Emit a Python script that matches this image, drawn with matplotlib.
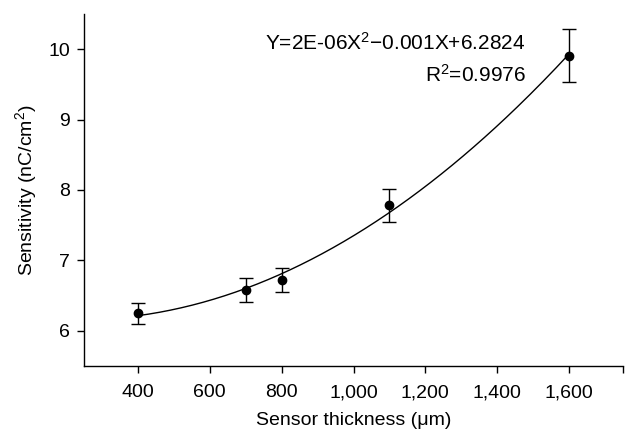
import numpy as np
import matplotlib
matplotlib.use("Agg")
import matplotlib.pyplot as plt

thickness = [400, 700, 800, 1100, 1600]
sensitivity = [6.25, 6.58, 6.72, 7.78, 9.91]
errors = [0.15, 0.17, 0.175, 0.235, 0.38]
x_ticks = [400, 600, 800, 1000, 1200, 1400, 1600]
x_tick_labels = ["400", "600", "800", "1,000", "1,200", "1,400", "1,600"]
y_ticks = [6, 7, 8, 9, 10]
equation = "Y=2E-06X$^2$\u22120.001X+6.2824"
r2_text = "R$^2$=0.9976"

plt.rcParams['font.family'] = ['Liberation Sans', 'DejaVu Sans']
plt.rcParams['mathtext.fontset'] = 'custom'
plt.rcParams['mathtext.rm'] = 'Liberation Sans'
plt.rcParams['mathtext.it'] = 'Liberation Sans'
plt.rcParams['mathtext.default'] = 'rm'

fig = plt.figure(figsize=(6.3, 4.33), dpi=100)
ax = fig.add_axes([84/630, 1-366/433, (623-84)/630, (366-14)/433])

coef = np.polyfit(thickness, sensitivity, 2)
xs = np.linspace(min(thickness), max(thickness), 200)
ax.plot(xs, np.polyval(coef, xs), color='black', lw=1.0)
ax.errorbar(thickness, sensitivity, yerr=errors, fmt='o', color='black',
            ms=6, capsize=5, elinewidth=1.0, capthick=1.0)

ax.set_xlim(250, 1750)
ax.set_ylim(5.5, 10.5)
ax.set_xticks(x_ticks)
ax.set_xticklabels(x_tick_labels)
ax.set_xticks([1750], minor=True)
ax.set_yticks(y_ticks)
ax.tick_params(axis='both', which='both', direction='out', length=5, width=1,
               labelsize=14, colors='black')
ax.tick_params(axis='x', pad=8)
ax.tick_params(axis='y', pad=5)
for s in ['top', 'right']:
    ax.spines[s].set_visible(False)
for s in ['left', 'bottom']:
    ax.spines[s].set_linewidth(1.0)

ax.set_xlabel("Sensor thickness (\u03bcm)", fontsize=14, labelpad=8)
ax.set_ylabel("Sensitivity (nC/cm$^2$)", fontsize=14, labelpad=7)

ax.text(1479, 9.99, equation, fontsize=15, ha='right', va='baseline')
ax.text(1479, 9.54, r2_text, fontsize=15, ha='right', va='baseline')

fig.savefig("out.png", dpi=100)
